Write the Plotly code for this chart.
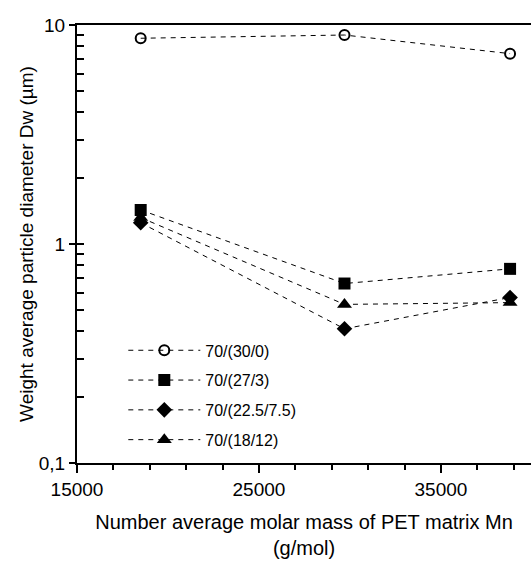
import plotly.graph_objects as go

# Data
mn = [18500, 29700, 38800]
series_names = ["70/(30/0)", "70/(27/3)", "70/(22.5/7.5)", "70/(18/12)"]
dw_30_0 = [8.7, 9.0, 7.4]
dw_27_3 = [1.43, 0.66, 0.77]
dw_22_5 = [1.25, 0.41, 0.57]
dw_18_12 = [1.32, 0.53, 0.54]
y_tickvals = [0.1, 1, 10]
y_ticktext = ["0,1", "1", "10"]
y_inner_ticks = [0.1, 0.2, 0.3, 0.4, 0.5, 0.6, 0.7, 0.8, 0.9,
                 1, 2, 3, 4, 5, 6, 7, 8, 9, 10]
x_tickvals = [15000, 25000, 35000]
x_minorvals = [17000, 19000, 21000, 23000, 27000, 29000, 31000, 33000, 37000, 39000]

FONT = "Arial, Liberation Sans, sans-serif"
X_RANGE = [15000, 39950]

fig = go.Figure()
styles = [
    (dw_30_0, dict(symbol="circle-open", size=10, color="black", line=dict(width=2, color="black"))),
    (dw_27_3, dict(symbol="square", size=12, color="black")),
    (dw_22_5, dict(symbol="diamond", size=12, color="black")),
    (dw_18_12, dict(symbol="triangle-up", size=13, color="black")),
]
for i, (vals, mk) in enumerate(styles):
    fig.add_trace(go.Scatter(
        x=mn, y=vals, name=series_names[i], mode="lines+markers",
        line=dict(color="black", width=1, dash="5px,5px"),
        marker=mk, legendgroup=f"g{i}", cliponaxis=False,
    ))

# invisible helper traces so the overlay tick axes get drawn
fig.add_trace(go.Scatter(x=mn, y=dw_30_0, xaxis="x", yaxis="y2", mode="markers",
                         marker=dict(opacity=0), showlegend=False, hoverinfo="skip"))
fig.add_trace(go.Scatter(x=mn, y=dw_30_0, xaxis="x2", yaxis="y", mode="markers",
                         marker=dict(opacity=0), showlegend=False, hoverinfo="skip"))

fig.update_layout(
    width=531, height=561,
    margin=dict(l=77, r=0, t=25, b=98),
    paper_bgcolor="white", plot_bgcolor="white",
    font=dict(family=FONT, size=19, color="black"),
    showlegend=True,
    legend=dict(
        x=0.102, y=0.296, xanchor="left", yanchor="top",
        font=dict(size=16, family=FONT), itemwidth=72,
        tracegroupgap=6, bgcolor="rgba(0,0,0,0)",
    ),
    xaxis=dict(
        range=X_RANGE, showline=True, linecolor="black", linewidth=2,
        mirror=True, showgrid=False, zeroline=False,
        tickmode="array", tickvals=x_tickvals, tickformat="d",
        ticks="outside", ticklen=8, tickwidth=2, tickcolor="black",
        title=dict(text="Number average molar mass of PET matrix Mn<br>(g/mol)",
                   font=dict(size=20), standoff=16),
    ),
    xaxis2=dict(
        range=X_RANGE, overlaying="x", side="bottom", anchor="y",
        tickmode="array", tickvals=x_minorvals, ticks="outside", ticklen=6,
        tickwidth=2, tickcolor="black", showticklabels=False,
        showline=False, showgrid=False, zeroline=False,
    ),
    yaxis=dict(
        type="log", range=[-1, 1], showline=True, linecolor="black", linewidth=2,
        showgrid=False, zeroline=False,
        tickmode="array", tickvals=y_tickvals, ticktext=y_ticktext,
        ticks="outside", ticklen=6, tickwidth=2, tickcolor="black",
        title=dict(text="Weight average particle diameter Dw (µm)",
                   font=dict(size=19), standoff=0),
    ),
    yaxis2=dict(
        type="log", range=[-1, 1], overlaying="y", side="left", anchor="x",
        tickmode="array", tickvals=y_inner_ticks, ticks="inside", ticklen=7,
        tickwidth=2, tickcolor="black", showticklabels=False,
        showline=False, showgrid=False, zeroline=False,
    ),
)

fig.write_html("out.html")
